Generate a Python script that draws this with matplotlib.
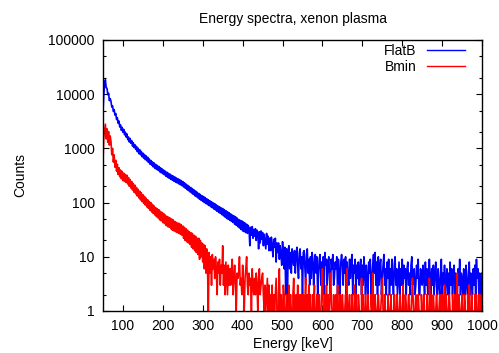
import numpy as np
import matplotlib
matplotlib.use("Agg")
import matplotlib.pyplot as plt
from matplotlib.ticker import LogLocator, FuncFormatter, NullFormatter

plt.rcParams['font.family'] = ['Liberation Sans', 'DejaVu Sans']
plt.rcParams['font.size'] = 10

# energy bins, 2 keV wide
energy = np.arange(50, 1001, 2)

# counts per bin (rows of 20 keV)
flatb_counts = [
    4800, 9800, 14600, 18500, 13200, 12900, 9800, 10400, 7600, 8300,
    7400, 5800, 6100, 4800, 5200, 4100, 4400, 3400, 3700, 2900,
    3200, 2480, 2700, 2150, 2450, 1980, 2250, 1780, 2000, 1620,
    1850, 1450, 1620, 1310, 1520, 1240, 1390, 1100, 1270, 1030,
    1170, 960, 1090, 870, 1010, 800, 950, 760, 880, 700,
    820, 660, 770, 620, 730, 590, 690, 550, 640, 510,
    600, 490, 565, 455, 540, 430, 510, 410, 485, 395,
    465, 370, 440, 355, 420, 340, 400, 325, 380, 305,
    365, 292, 348, 280, 335, 268, 320, 258, 308, 247,
    298, 238, 285, 230, 275, 222, 266, 213, 255, 205,
    245, 194, 232, 185, 220, 175, 210, 166, 199, 158,
    190, 150, 181, 142, 172, 134, 164, 128, 155, 122,
    148, 115, 141, 110, 134, 105, 130, 100, 124, 96,
    118, 92, 113, 88, 108, 84, 104, 80, 99, 76,
    96, 73, 91, 69, 87, 66, 84, 63, 80, 60,
    78, 57, 74, 54, 71, 51, 68, 49, 65, 47,
    62, 45, 59, 43, 57, 40, 55, 38, 52, 36,
    49, 34, 47, 32, 46, 30, 44, 29, 42, 28,
    40, 27, 38, 33, 16, 35, 25, 36, 22, 32,
    24, 33, 20, 31, 28, 14, 29, 18, 30, 21,
    28, 16, 26, 19, 14, 27, 17, 24, 13, 22,
    13, 23, 16, 10, 21, 15, 22, 8, 18, 12,
    18, 9, 16, 11, 7, 19, 12, 6, 15, 2,
    14, 1, 13, 16, 6, 12, 5, 14, 9, 7,
    13, 5, 11, 15, 7, 4, 12, 14, 6, 10,
    2, 12, 13, 6, 3, 11, 14, 5, 9, 3,
    10, 4, 12, 9, 3, 7, 11, 5, 10, 2,
    5, 9, 11, 3, 8, 6, 10, 2, 12, 7,
    9, 3, 8, 10, 4, 2, 9, 6, 11, 3,
    4, 8, 6, 10, 2, 9, 5, 2, 8, 11,
    7, 3, 9, 5, 10, 2, 8, 4, 3, 9,
    4, 8, 11, 2, 7, 5, 9, 2, 7, 4,
    8, 3, 6, 9, 2, 7, 3, 10, 5, 2,
    7, 4, 2, 8, 5, 9, 2, 4, 7, 11,
    5, 12, 3, 8, 2, 10, 3, 7, 9, 2,
    4, 7, 11, 3, 6, 2, 8, 4, 9, 2,
    6, 3, 9, 4, 2, 7, 10, 3, 6, 2,
    4, 8, 2, 6, 3, 9, 2, 7, 4, 6,
    2, 6, 8, 3, 5, 2, 7, 10, 3, 5,
    6, 2, 3, 7, 4, 9, 2, 2, 6, 4,
    3, 7, 4, 2, 8, 3, 6, 2, 5, 9,
    4, 2, 6, 3, 7, 2, 5, 8, 3, 2,
    6, 3, 2, 5, 9, 2, 5, 3, 7, 2,
    4, 6, 2, 5, 2, 8, 3, 6, 2, 5,
    7, 2, 5, 3, 2, 6, 3, 9, 2, 5,
    4, 2, 6, 4, 2, 7, 3, 2, 5, 8,
    2, 5, 3, 2, 6, 3, 7, 2, 9, 4,
    6, 2, 5, 3, 2, 5,
]

bmin_counts = [
    560, 1600, 2100, 2800, 1500, 2300, 1300, 2050, 1150, 1700,
    1350, 760, 1000, 560, 760, 450, 600, 380, 510, 330,
    440, 300, 400, 275, 375, 255, 350, 245, 330, 235,
    320, 220, 290, 200, 265, 185, 245, 170, 225, 155,
    210, 145, 190, 132, 176, 122, 163, 112, 152, 104,
    140, 97, 130, 90, 121, 83, 113, 78, 105, 72,
    100, 67, 93, 63, 87, 59, 81, 55, 77, 52,
    74, 48, 69, 46, 66, 43, 63, 41, 59, 38,
    56, 36, 54, 35, 52, 33, 50, 31, 48, 30,
    45, 29, 43, 28, 42, 27, 41, 26, 39, 25,
    37, 22, 35, 20, 33, 19, 31, 18, 29, 17,
    28, 15, 27, 14, 25, 13, 24, 12, 22, 11,
    22, 9, 20, 10, 18, 8, 17, 6, 16, 5,
    14, 6, 1, 12, 5, 10, 3, 11, 6, 9,
    4, 10, 6, 2, 8, 5, 9, 3, 7, 5,
    16, 3, 7, 2, 8, 4, 2, 7, 3, 6,
    3, 6, 9, 2, 4, 7, 3, 1, 5, 4,
    5, 10, 3, 4, 2, 7, 3, 1, 4, 6,
    10, 3, 2, 5, 3, 4, 1, 6, 3, 2,
    4, 2, 5, 3, 1, 4, 6, 2, 3, 4,
    5, 2, 1, 3, 1, 2, 4, 1, 3, 0,
    2, 1, 3, 0, 2, 1, 2, 4, 1, 0,
    2, 6, 1, 2, 0, 1, 3, 2, 0, 1,
    2, 1, 0, 3, 1, 2, 1, 0, 2, 4,
    1, 0, 2, 1, 3, 1, 0, 2, 1, 2,
    0, 2, 1, 1, 4, 0, 2, 1, 3, 1,
    2, 0, 1, 2, 1, 3, 0, 1, 2, 1,
    1, 2, 0, 1, 2, 6, 1, 0, 2, 1,
    3, 1, 2, 0, 1, 5, 2, 1, 0, 2,
    1, 0, 2, 1, 3, 1, 0, 2, 1, 1,
    2, 1, 0, 1, 2, 1, 6, 0, 1, 2,
    0, 1, 2, 1, 0, 3, 1, 2, 1, 0,
    2, 1, 1, 0, 4, 1, 2, 0, 1, 2,
    1, 0, 2, 1, 1, 0, 2, 1, 5, 1,
    0, 2, 1, 0, 1, 2, 1, 0, 1, 2,
    4, 1, 0, 2, 1, 1, 0, 2, 1, 0,
    1, 2, 0, 1, 1, 2, 0, 1, 2, 1,
    0, 1, 2, 1, 0, 1, 3, 1, 0, 2,
    1, 0, 1, 2, 1, 0, 1, 2, 4, 1,
    0, 1, 2, 1, 0, 2, 1, 1, 0, 2,
    1, 0, 2, 1, 1, 0, 2, 1, 0, 4,
    1, 2, 0, 1, 2, 1, 0, 1, 2, 1,
    0, 1, 2, 1, 0, 2, 1, 1, 3, 0,
    2, 1, 0, 1, 2, 1, 1, 0, 2, 1,
    0, 2, 1, 1, 5, 0, 2, 1, 0, 1,
    2, 1, 0, 2, 1, 1, 0, 2, 1, 3,
    1, 0, 2, 1, 1, 0, 2, 1, 2, 0,
    1, 2, 0, 1, 2, 1,
]

x_ticks = [100, 200, 300, 400, 500, 600, 700, 800, 900, 1000]

fig = plt.figure(figsize=(4.99, 3.53), dpi=100)
ax = fig.add_axes([0.2064, 0.119, 0.7596, 0.7677])

ax.plot(energy, flatb_counts, color='#0000ff', lw=1.2, label='FlatB')
ax.plot(energy, bmin_counts, color='#ff0000', lw=1.2, label='Bmin')

ax.set_yscale('log', nonpositive='clip')
ax.set_xlim(50, 1000)
ax.set_ylim(1, 100000)
ax.set_xticks(x_ticks)
ax.yaxis.set_major_locator(LogLocator(base=10))
ax.yaxis.set_minor_locator(LogLocator(base=10, subs=(2.0, 5.0)))
ax.yaxis.set_minor_formatter(NullFormatter())
ax.yaxis.set_major_formatter(FuncFormatter(lambda v, _: f"{v:g}"))

ax.tick_params(which='both', direction='in', top=True, right=True, width=0.8)
ax.tick_params(which='major', length=4, pad=6)
ax.tick_params(which='minor', length=2)
for s in ax.spines.values():
    s.set_linewidth(1.0)

ax.set_title('Energy spectra, xenon plasma', fontsize=10, pad=12)
ax.set_xlabel('Energy [keV]', labelpad=3)
ax.set_ylabel('Counts', labelpad=15)

leg = ax.legend(loc='upper right', bbox_to_anchor=(0.955, 0.985),
                frameon=False, markerfirst=False, borderpad=0,
                borderaxespad=0, handlelength=2.75, handletextpad=0.75,
                labelspacing=0.15, fontsize=10)
for line in leg.get_lines():
    line.set_linewidth(1.0)

fig.savefig('out.png', dpi=100)
